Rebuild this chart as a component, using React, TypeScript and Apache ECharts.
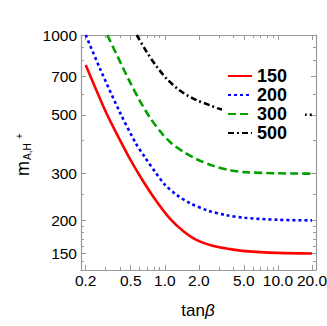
import React, { useEffect, useRef } from "react";
import * as echarts from "echarts";

// ---- data ----
const seriesNames = ["150", "200", "300", "500"];
const tanBeta150 = [0.2, 0.3, 0.4, 0.49, 0.65, 0.85, 1.11, 1.46, 1.92, 2.7, 3.8, 5.1, 10, 20];
const mass150 = [771, 515, 403, 342, 279, 235, 203, 182, 168.4, 160, 155.8, 153.2, 150.8, 150];
const tanBeta200 = [0.2, 0.27, 0.4, 0.55, 0.67, 0.82, 1.0, 1.28, 1.68, 2.35, 3.5, 5.1, 10, 20];
const mass200 = [1000, 740, 512, 393, 345, 305, 273, 249, 232, 218.4, 209.3, 204.5, 201, 200];
const tanBeta300 = [0.31, 0.49, 0.6, 0.74, 0.94, 1.15, 1.46, 1.92, 2.7, 3.8, 5.1, 10, 20];
const mass300 = [1000, 667, 566, 488, 426, 390, 363, 340, 321, 309, 304, 301, 300];
const tanBeta500 = [0.565, 0.69, 0.85, 1.04, 1.28, 1.57, 1.92, 2.52, 3.08, 5, 10, 20];
const mass500 = [1000, 865, 759, 684, 630, 593, 567.5, 543, 526, 512, 503.6, 500];

const xMajorTicks = [0.2, 0.5, 1, 2, 5, 10, 20];
const xMinorTicks = [0.3, 0.4, 0.6, 0.7, 0.8, 0.9, 3, 4, 6, 7, 8, 9];
const yMajorTicks = [150, 200, 300, 500, 700, 1000];
const yMinorTicks = [140, 160, 170, 180, 190, 250, 400, 600, 800, 900];

const X_RANGE = [0.1817, 21.7];
const Y_RANGE = [130, 1000];

const FONT = "Liberation Sans";
const AXIS_COLOR = "#9a9a9a";

const lg = (v: number) => Math.log10(v);

function toPairs(xs: number[], ys: number[]) {
  return xs.map((x, i) => [lg(x), lg(ys[i])]);
}

function makeAxis(
  dir: "x" | "y",
  position: string,
  ticks: number[],
  len: number,
  withLabels: boolean,
  withLine: boolean
) {
  const range = dir === "x" ? X_RANGE : Y_RANGE;
  return {
    type: "value",
    position,
    min: lg(range[0]),
    max: lg(range[1]),
    splitLine: { show: false },
    axisLine: { show: withLine, onZero: false, lineStyle: { color: AXIS_COLOR, width: 1.2 } },
    axisTick: {
      show: true,
      inside: true,
      length: len,
      customValues: ticks.map(lg),
      lineStyle: { color: AXIS_COLOR, width: 1 },
    },
    axisLabel: withLabels
      ? {
          show: true,
          customValues: ticks.map(lg),
          margin: dir === "x" ? 2 : 4,
          fontSize: 15.5,
          fontFamily: FONT,
          color: "#000",
          formatter: (v: number) => {
            const n = Math.pow(10, v);
            return dir === "x" ? n.toFixed(1) : String(Math.round(n));
          },
        }
      : { show: false },
  };
}

export default function App() {
  const ref = useRef<HTMLDivElement>(null);
  useEffect(() => {
    if (!ref.current) return;
    const chart = echarts.init(ref.current, null, { renderer: "svg" });
    const lineBase = { type: "line", symbol: "none", smooth: 0.3, clip: true, xAxisIndex: 0, yAxisIndex: 0 };
    chart.setOption({
      animation: false,
      backgroundColor: "#fff",
      grid: { left: 81, right: 11, top: 35, bottom: 56, containLabel: false, outerBoundsMode: "none" },
      xAxis: [
        makeAxis("x", "bottom", xMajorTicks, 5, true, true),
        makeAxis("x", "bottom", xMinorTicks, 3, false, false),
        makeAxis("x", "top", xMajorTicks, 5, false, true),
        makeAxis("x", "top", xMinorTicks, 3, false, false),
      ],
      yAxis: [
        makeAxis("y", "left", yMajorTicks, 5, true, true),
        makeAxis("y", "left", yMinorTicks, 3, false, false),
        makeAxis("y", "right", yMajorTicks, 5, false, true),
        makeAxis("y", "right", yMinorTicks, 3, false, false),
      ],
      legend: {
        data: seriesNames,
        orient: "vertical",
        left: 222,
        top: 62,
        itemWidth: 24,
        itemHeight: 14,
        itemGap: 1,
        padding: [5, 18, 5, 5],
        backgroundColor: "#fff",
        itemStyle: { opacity: 0, borderWidth: 0 },
        textStyle: { fontSize: 18, fontWeight: "bold", fontFamily: FONT, color: "#000" },
      },
      series: [
        { ...lineBase, name: seriesNames[0], data: toPairs(tanBeta150, mass150), lineStyle: { color: "#ff0000", width: 2.6, type: "solid" }, itemStyle: { color: "#ff0000" } },
        { ...lineBase, name: seriesNames[1], data: toPairs(tanBeta200, mass200), lineStyle: { color: "#0000ff", width: 2.6, type: [3, 3] }, itemStyle: { color: "#0000ff" } },
        { ...lineBase, name: seriesNames[2], data: toPairs(tanBeta300, mass300), lineStyle: { color: "#00a000", width: 2.6, type: [8, 4] }, itemStyle: { color: "#00a000" } },
        { ...lineBase, name: seriesNames[3], data: toPairs(tanBeta500, mass500), lineStyle: { color: "#000000", width: 2.6, type: [6, 3, 2, 3] }, itemStyle: { color: "#000000" } },
      ],
      graphic: [
        {
          type: "text",
          x: 198,
          y: 310,
          style: {
            text: "{a|tan}{b|β}",
            rich: {
              a: { fontSize: 17, fontFamily: FONT, fill: "#000" },
              b: { fontSize: 17, fontFamily: FONT, fontStyle: "italic", fill: "#000" },
            },
            align: "center",
            verticalAlign: "middle",
          },
        },
        {
          type: "group",
          x: 0,
          y: 176,
          rotation: Math.PI / 2,
          children: [
            { type: "text", x: 0, y: 23, style: { text: "m", fontSize: 18, fontFamily: FONT, fill: "#000", align: "left", verticalAlign: "middle" } },
            { type: "text", x: 16, y: 27, style: { text: "A,H", fontSize: 10, fontFamily: FONT, fill: "#000", align: "left", verticalAlign: "middle" } },
            { type: "text", x: 37, y: 19, style: { text: "+", fontSize: 10, fontFamily: FONT, fill: "#000", align: "left", verticalAlign: "middle" } },
          ],
        },
      ],
    });
    return () => chart.dispose();
  }, []);
  return <div ref={ref} style={{ position: "fixed", left: 0, top: 0, width: 327, height: 326 }} />;
}
